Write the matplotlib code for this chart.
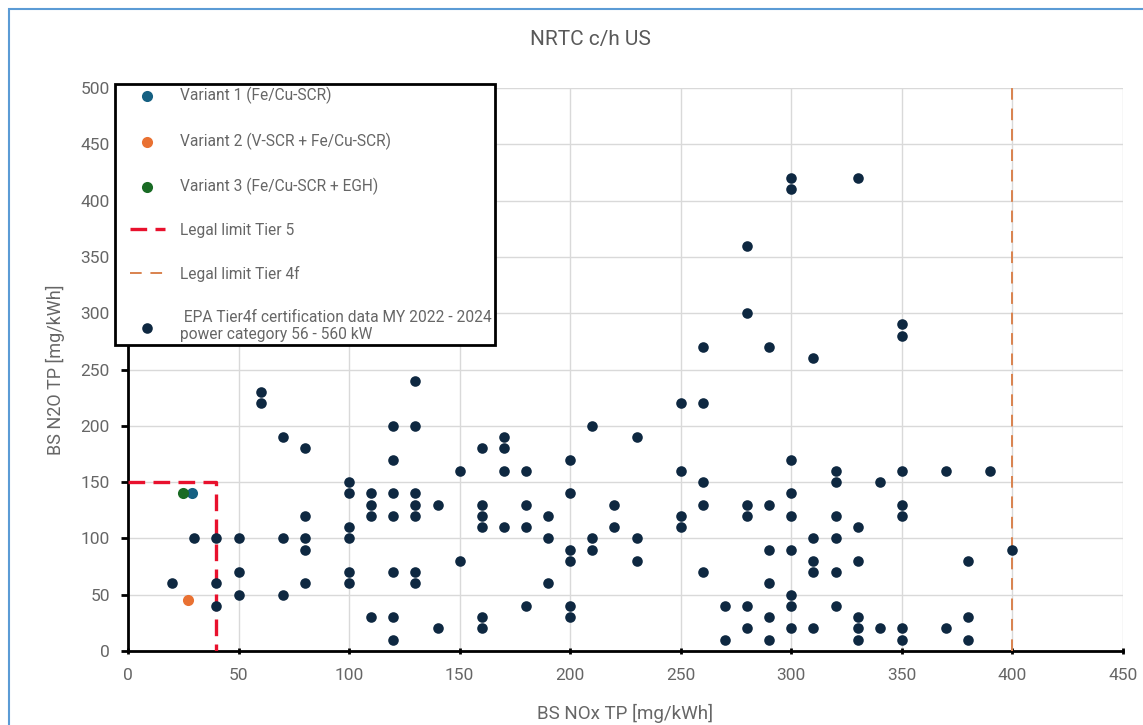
import matplotlib
matplotlib.use("Agg")
import matplotlib.pyplot as plt
from matplotlib.patches import Rectangle
from matplotlib.lines import Line2D
from matplotlib.collections import PathCollection
from matplotlib.legend_handler import HandlerLine2D, HandlerPathCollection

plt.rcParams['font.family'] = ['Roboto', 'DejaVu Sans']

# EPA Tier4f certification data, grouped by NOx value -> list of N2O values
epa_nox = [20, 30, 40, 50, 60, 70, 80, 100, 110, 120, 130, 140, 150, 160, 170, 180, 190,
           200, 210, 220, 230, 250, 260, 270, 280, 290, 300, 310, 320, 330, 340, 350,
           370, 380, 390, 400]
epa_n2o = [
    [60],
    [100],
    [100, 60, 40],
    [100, 70, 50],
    [230, 220],
    [190, 100, 50],
    [180, 120, 100, 90, 60],
    [150, 140, 110, 100, 70, 60],
    [140, 130, 120, 30],
    [200, 170, 140, 120, 70, 30, 10],
    [240, 200, 140, 130, 120, 70, 60],
    [130, 20],
    [160, 80],
    [180, 130, 120, 110, 30, 20],
    [190, 180, 160, 110],
    [160, 130, 110, 40],
    [120, 100, 60],
    [170, 140, 90, 80, 40, 30],
    [200, 100, 90],
    [130, 110],
    [190, 100, 80],
    [220, 160, 120, 110],
    [270, 220, 150, 130, 70],
    [40, 10],
    [360, 300, 130, 120, 40, 20],
    [270, 130, 90, 60, 30, 10],
    [420, 410, 170, 140, 120, 90, 50, 40, 20],
    [260, 100, 80, 70, 20],
    [160, 150, 120, 100, 70, 40],
    [420, 110, 80, 30, 20, 10],
    [150, 20],
    [290, 280, 160, 130, 120, 20, 10],
    [160, 20],
    [80, 30, 10],
    [160],
    [90],
]

variant_labels = ["Variant 1 (Fe/Cu-SCR)", "Variant 2 (V-SCR + Fe/Cu-SCR)", "Variant 3 (Fe/Cu-SCR + EGH)"]
variant_nox = [29, 27, 25]
variant_n2o = [140, 45, 140]
variant_colors = ["#156082", "#E97132", "#196B24"]

tier5_nox = [0, 40, 40]
tier5_n2o = [150, 150, 0]
tier4f_nox = [400, 400]
tier4f_n2o = [0, 500]

W, H = 1143, 725
fig = plt.figure(figsize=(W / 100, H / 100), dpi=100)
fig.patches.append(Rectangle((9 / W, -0.05), 1.1, (H - 9) / H + 0.05, transform=fig.transFigure,
                             fill=False, edgecolor="#5B9BD5", linewidth=1.5))

ax = fig.add_axes([128 / W, (H - 651) / H, (1123 - 128) / W, (651 - 88) / H])

# flatten the grouped EPA data
xs, ys = [], []
for nx, vals in zip(epa_nox, epa_n2o):
    for v in vals:
        xs.append(nx)
        ys.append(v)

h_v = []
for lab, x, y, c in zip(variant_labels, variant_nox, variant_n2o, variant_colors):
    h_v.append(ax.scatter([x], [y], s=64, color=c, zorder=4, label=lab, linewidths=0))

h_t5, = ax.plot(tier5_nox, tier5_n2o, color="#E8112D", lw=2.4, dashes=(5, 2.5), zorder=3,
                label="Legal limit Tier 5")
h_t4, = ax.plot(tier4f_nox, tier4f_n2o, color="#D9824E", lw=1.4, dashes=(6, 4.5), zorder=3,
                label="Legal limit Tier 4f")
h_epa = ax.scatter(xs, ys, s=58, color="#0E2841", zorder=3, linewidths=0,
                   label=" EPA Tier4f certification data MY 2022 - 2024\npower category 56 - 560 kW")

ax.set_xlim(0, 450)
ax.set_ylim(0, 500)
ax.set_xticks(range(0, 451, 50))
ax.set_yticks(range(0, 501, 50))
ax.grid(True, color="#D9D9D9", lw=1)
ax.set_axisbelow(True)
for s in ["top", "right"]:
    ax.spines[s].set_visible(False)
for s in ["left", "bottom"]:
    ax.spines[s].set_linewidth(2)
    ax.spines[s].set_color("black")
ax.tick_params(axis="y", length=5, width=2, direction="out", labelsize=12.5, labelcolor="#666666", pad=8)
ax.tick_params(axis="x", length=4, width=2, direction="inout", labelsize=12.5, labelcolor="#666666", pad=10)

fig.text(590 / W, 1 - 40 / H, "NRTC c/h US", ha="center", va="center", fontsize=15, color="#595959")
fig.text(625 / W, 1 - 713 / H, "BS NOx TP [mg/kWh]", ha="center", va="center", fontsize=13.5, color="#666666")
fig.text(55 / W, 1 - 370 / H, "BS N2O TP [mg/kWh]", ha="center", va="center", rotation=90,
         fontsize=13, color="#666666")

# xpad shifts the legend handles right without widening the top padding
hmap = {Line2D: HandlerLine2D(xpad=0.75), PathCollection: HandlerPathCollection(xpad=0.75)}
leg = ax.legend(handles=h_v + [h_t5, h_t4, h_epa], loc="upper left",
                bbox_to_anchor=(115 / W, 1 - 84 / H), bbox_transform=fig.transFigure,
                fontsize=11.2, labelcolor="#666666", frameon=True, fancybox=False,
                edgecolor="black", framealpha=1, borderpad=0.2, labelspacing=1.8,
                handlelength=3.0, handletextpad=1.0, borderaxespad=0, scatterpoints=1,
                handler_map=hmap)
leg.get_frame().set_linewidth(2)
leg.set_zorder(10)

fig.savefig("out.png", dpi=100)
